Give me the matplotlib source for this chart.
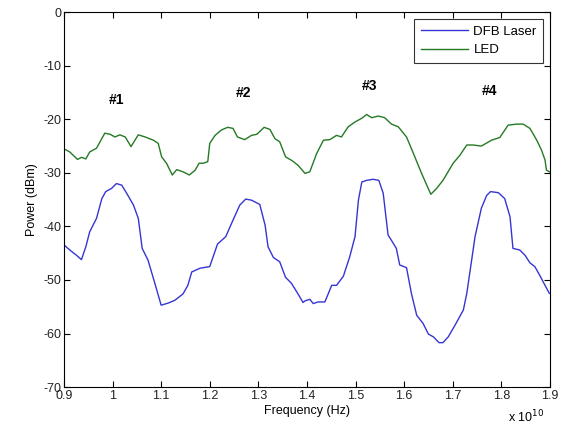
import matplotlib
matplotlib.use("Agg")
import matplotlib.pyplot as plt

plt.rcParams['font.family'] = ['Liberation Sans', 'DejaVu Sans']
plt.rcParams['axes.unicode_minus'] = False

# Frequency in units of 1e10 Hz, power in dBm
led_freq = [0.902, 0.912, 0.928, 0.936, 0.945, 0.953, 0.967, 0.984, 0.995, 1.005,
            1.015, 1.026, 1.038, 1.053, 1.067, 1.084, 1.094, 1.101, 1.111, 1.123,
            1.132, 1.145, 1.158, 1.170, 1.178, 1.187, 1.196, 1.200, 1.211, 1.224,
            1.237, 1.248, 1.257, 1.272, 1.286, 1.297, 1.312, 1.324, 1.334, 1.344,
            1.356, 1.369, 1.382, 1.396, 1.406, 1.420, 1.434, 1.447, 1.461, 1.471,
            1.485, 1.499, 1.513, 1.523, 1.533, 1.547, 1.560, 1.574, 1.588, 1.605,
            1.622, 1.636, 1.655, 1.667, 1.680, 1.701, 1.715, 1.729, 1.742, 1.759,
            1.780, 1.797, 1.814, 1.831, 1.845, 1.859, 1.873, 1.883, 1.890, 1.893, 1.899]
led_power = [-25.6, -26.1, -27.5, -27.1, -27.4, -26.1, -25.4, -22.6, -22.8, -23.3,
             -22.9, -23.3, -25.1, -22.9, -23.3, -23.9, -24.5, -27.0, -28.2, -30.4,
             -29.4, -29.8, -30.4, -29.5, -28.2, -28.2, -27.9, -24.5, -23.0, -22.0,
             -21.5, -21.7, -23.3, -23.8, -23.0, -22.8, -21.5, -21.9, -23.6, -24.2,
             -27.0, -27.7, -28.6, -30.1, -29.8, -26.4, -23.9, -23.8, -23.0, -23.3,
             -21.4, -20.5, -19.8, -19.1, -19.7, -19.4, -19.7, -20.9, -21.4, -23.3,
             -27.0, -30.1, -34.0, -32.9, -31.4, -28.2, -26.7, -24.8, -24.8, -25.0,
             -23.9, -23.4, -21.1, -20.9, -20.9, -21.7, -23.9, -25.8, -27.6, -29.5, -29.8]

dfb_freq = [0.902, 0.912, 0.926, 0.936, 0.945, 0.953, 0.967, 0.978, 0.986, 0.998,
            1.008, 1.019, 1.029, 1.043, 1.053, 1.061, 1.073, 1.087, 1.100, 1.115,
            1.128, 1.145, 1.155, 1.163, 1.180, 1.200, 1.216, 1.233, 1.248, 1.262,
            1.274, 1.286, 1.303, 1.314, 1.320, 1.331, 1.344, 1.356, 1.368, 1.379,
            1.392, 1.396, 1.406, 1.413, 1.423, 1.437, 1.451, 1.461, 1.475, 1.488,
            1.499, 1.506, 1.513, 1.523, 1.536, 1.548, 1.557, 1.567, 1.574, 1.584,
            1.591, 1.605, 1.615, 1.626, 1.639, 1.650, 1.660, 1.672, 1.680, 1.691,
            1.705, 1.722, 1.729, 1.739, 1.746, 1.759, 1.770, 1.778, 1.794, 1.807,
            1.818, 1.824, 1.838, 1.849, 1.859, 1.869, 1.879, 1.890, 1.899]
dfb_power = [-43.6, -44.4, -45.4, -46.2, -43.8, -41.0, -38.5, -34.8, -33.5, -32.9,
             -32.0, -32.3, -33.8, -36.0, -38.5, -44.1, -46.3, -50.6, -54.7, -54.3,
             -53.8, -52.6, -51.0, -48.5, -47.8, -47.5, -43.3, -41.9, -38.8, -36.0,
             -34.9, -35.1, -35.9, -39.8, -43.8, -45.8, -46.6, -49.5, -50.6, -52.2,
             -54.2, -53.9, -53.6, -54.4, -54.1, -54.1, -51.0, -51.0, -49.3, -45.7,
             -41.9, -35.1, -31.7, -31.4, -31.2, -31.4, -33.8, -41.6, -42.6, -44.1,
             -47.2, -47.7, -52.5, -56.6, -58.1, -60.1, -60.6, -61.7, -61.7, -60.6,
             -58.4, -55.6, -52.5, -46.3, -41.9, -36.6, -34.2, -33.5, -33.7, -34.8,
             -38.2, -44.1, -44.4, -45.4, -46.8, -47.5, -49.1, -51.0, -52.5]

peak_labels = ['#1', '#2', '#3', '#4']
peak_freq = [1.009, 1.270, 1.528, 1.775]
peak_power = [-16.4, -15.1, -13.8, -14.7]

x_ticks = [0.9, 1.0, 1.1, 1.2, 1.3, 1.4, 1.5, 1.6, 1.7, 1.8, 1.9]
x_tick_labels = ['0.9', '1', '1.1', '1.2', '1.3', '1.4', '1.5', '1.6', '1.7', '1.8', '1.9']
y_ticks = [-70, -60, -50, -40, -30, -20, -10, 0]

fig = plt.figure(figsize=(5.71, 4.34), dpi=100)
ax = fig.add_axes([0.112, 0.108, 0.851, 0.864])

ax.plot(dfb_freq, dfb_power, color='#3535d4', lw=1.0, label='DFB Laser')
ax.plot(led_freq, led_power, color='#247a24', lw=1.0, label='LED')

for lab, f, p in zip(peak_labels, peak_freq, peak_power):
    ax.text(f, p, lab, ha='center', va='center', fontsize=10, fontweight='bold')

ax.set_xlim(0.9, 1.9)
ax.set_ylim(-70, 0)
ax.set_xticks(x_ticks)
ax.set_xticklabels(x_tick_labels)
ax.set_yticks(y_ticks)
ax.tick_params(direction='in', top=True, right=True, labelsize=9, length=4, pad=2,
               labelcolor='#222222')
for s in ax.spines.values():
    s.set_linewidth(0.8)

ax.set_xlabel('Frequency (Hz)', fontsize=9, labelpad=2)
ax.set_ylabel('Power (dBm)', fontsize=9, labelpad=4)
fig.text(0.89, 0.02, r'x 10$^{10}$', fontsize=9, ha='left', va='bottom')

leg = ax.legend(loc='upper right', fontsize=9.5, frameon=True, fancybox=False,
                edgecolor='black', borderaxespad=0.5, handlelength=3.6,
                borderpad=0.5, labelspacing=0.5, handletextpad=0.4)
leg.get_frame().set_linewidth(0.8)

fig.savefig('out.png', dpi=100)
